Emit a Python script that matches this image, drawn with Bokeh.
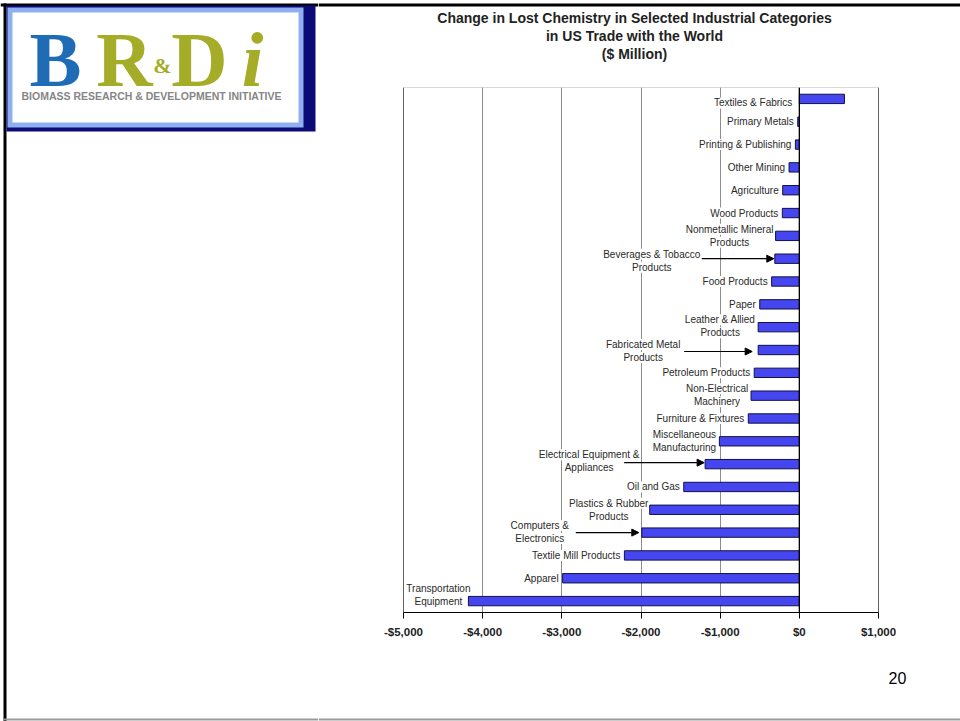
from bokeh.plotting import figure
from bokeh.layouts import row, column
from bokeh.models import (ColumnDataSource, Range1d, FixedTicker, Span, Arrow, NormalHead,
                          BoxAnnotation)
from bokeh.core.properties import value
from bokeh.embed import file_html
from bokeh.resources import INLINE

# ---- data -------------------------------------------------------------
categories = [
    "Textiles & Fabrics", "Primary Metals", "Printing & Publishing", "Other Mining",
    "Agriculture", "Wood Products", "Nonmetallic Mineral Products",
    "Beverages & Tobacco Products", "Food Products", "Paper",
    "Leather & Allied Products", "Fabricated Metal Products", "Petroleum Products",
    "Non-Electrical Machinery", "Furniture & Fixtures", "Miscellaneous Manufacturing",
    "Electrical Equipment & Appliances", "Oil and Gas", "Plastics & Rubber Products",
    "Computers & Electronics", "Textile Mill Products", "Apparel",
    "Transportation Equipment",
]
change_musd = [570, -20, -50, -130, -210, -215, -300, -310, -350, -500, -520, -520,
               -570, -610, -645, -1010, -1190, -1460, -1890, -1990, -2210, -2990, -4180]
display_labels = [
    "Textiles & Fabrics", "Primary Metals", "Printing & Publishing", "Other Mining",
    "Agriculture", "Wood Products", "Nonmetallic Mineral\nProducts",
    "Beverages & Tobacco\nProducts", "Food Products", "Paper",
    "Leather & Allied\nProducts", "Fabricated Metal\nProducts", "Petroleum Products",
    "Non-Electrical\nMachinery", "Furniture & Fixtures", "Miscellaneous\nManufacturing",
    "Electrical Equipment &\nAppliances", "Oil and Gas", "Plastics & Rubber\nProducts",
    "Computers &\nElectronics", "Textile Mill Products", "Apparel",
    "Transportation\nEquipment",
]
tick_values = [-5000, -4000, -3000, -2000, -1000, 0, 1000]
tick_labels = ["-$5,000", "-$4,000", "-$3,000", "-$2,000", "-$1,000", "$0", "$1,000"]
title_lines = ["Change in Lost Chemistry in Selected Industrial Categories",
               "in US Trade with the World", "($ Million)"]
page_number = "20"

# ---- page geometry (pixels) ---------------------------------------------
W, H = 960, 721
SPLIT_X = 318            # left column (logo) | right column (chart)
TITLE_H = 80             # title strip height
FOOT_Y = 660             # footer strip starts here
FRAME_L, FRAME_R, FRAME_T, FRAME_B = 403, 878, 87, 612
X0, X1 = tick_values[0], tick_values[-1]
n = len(categories)
units_per_px = (X1 - X0) / (FRAME_R - FRAME_L)
row_px = (FRAME_B - FRAME_T) / n
SANS = value("Liberation Sans")
SERIF = value("Liberation Serif")

# label placement: (dx from bar end in px, dy in px); two-line labels centred
label_place = {
    "Textiles & Fabrics": (-7, 4),
    "Nonmetallic Mineral Products": (-46, 0),
    "Beverages & Tobacco Products": (-123, 2),
    "Leather & Allied Products": (-38, -1),
    "Fabricated Metal Products": (-115, 1),
    "Non-Electrical Machinery": (-34, -0.5),
    "Miscellaneous Manufacturing": (-35, -0.5),
    "Electrical Equipment & Appliances": (-116, -3),
    "Plastics & Rubber Products": (-41, 0),
    "Computers & Electronics": (-102, -0.5),
    "Transportation Equipment": (-30, -6.5),
}
# leader arrows: (tail dx, tip dx, dy) in px relative to bar end / row centre
arrow_place = {
    "Beverages & Tobacco Products": (-73, -1, 0),
    "Fabricated Metal Products": (-74, -6, 1.5),
    "Electrical Equipment & Appliances": (-81, -1, -1.5),
    "Computers & Electronics": (-66, -3, 0),
}
LINE_GAP = 13


def pixel_panel(x0, x1, y0, y1):
    """A bare figure whose data coordinates are page pixels (y downwards)."""
    f = figure(width=x1 - x0, height=y1 - y0,
               x_range=Range1d(x0, x1), y_range=Range1d(y1, y0),
               x_axis_location=None, y_axis_location=None,
               output_backend="svg", toolbar_location=None,
               min_border=0, min_border_left=0, min_border_right=0,
               min_border_top=0, min_border_bottom=0)
    f.outline_line_color = None
    f.background_fill_color = "white"
    f.border_fill_color = "white"
    f.xgrid.visible = False
    f.ygrid.visible = False
    return f


def band(f, l, r, t, b, color):
    f.quad(left=[l], right=[r], top=[t], bottom=[b], fill_color=color, line_color=None)


def words(f, x, y, text, size, color, font=SANS, style="normal", align="left",
          baseline="middle"):
    f.text(x=[x], y=[y], text=[text], text_font=font, text_font_size=size,
           text_font_style=style, text_color=color, text_align=align,
           text_baseline=baseline)


# ---- left column: slide border and logo -----------------------------------
left = pixel_panel(0, SPLIT_X, 0, H)
band(left, 0, SPLIT_X, 3, 6, "black")
band(left, 3, 6, 3, H, "black")
band(left, 3, SPLIT_X, 718, 720, "#9a9a9a")
band(left, 6, 315, 5, 131, "#0b0b78")
band(left, 7, 303, 7, 127, "#8fb0f0")
band(left, 12, 298, 12, 122, "white")
BLUE, OLIVE = "#1f6cb6", "#a5ac27"
words(left, 55, 59, "B", "78px", BLUE, font=SERIF, style="bold", align="center")
words(left, 124, 59, "R", "78px", OLIVE, font=SERIF, style="bold", align="center")
words(left, 162, 65, "&", "22px", OLIVE, font=SERIF, style="bold", align="center")
words(left, 199, 59, "D", "78px", OLIVE, font=SERIF, style="bold", align="center")
words(left, 252, 59, "i", "78px", OLIVE, font=SERIF, style="bold italic", align="center")
words(left, 21, 95, "BIOMASS RESEARCH & DEVELOPMENT INITIATIVE", "10.5px", "#868686",
      style="bold")

# ---- title strip ------------------------------------------------------------
top = pixel_panel(SPLIT_X, W, 0, TITLE_H)
band(top, SPLIT_X, W, 3, 6, "black")
for k, line in enumerate(title_lines):
    words(top, 634, 17 + 18 * k, line, "14px", "#222222", style="bold", align="center")

# ---- chart ------------------------------------------------------------------
# the frame spans the whole right column; the value scale is set so that the
# axis limits land on the chart box
x_lo = X0 - (FRAME_L - SPLIT_X) * units_per_px
x_hi = X1 + (W - FRAME_R) * units_per_px
p = figure(width=W - SPLIT_X, height=FOOT_Y - TITLE_H,
           x_range=Range1d(x_lo, x_hi), y_range=Range1d(n - 0.5, -0.5),
           y_axis_location=None, output_backend="svg", toolbar_location=None,
           min_border_left=0, min_border_right=0,
           min_border_top=FRAME_T - TITLE_H, min_border_bottom=FOOT_Y - FRAME_B)
p.background_fill_color = "white"
p.border_fill_color = "white"
p.outline_line_color = None

p.xaxis.ticker = FixedTicker(ticks=tick_values)
p.xaxis.bounds = (X0, X1)
p.xaxis.major_label_overrides = dict(zip(tick_values, tick_labels))
p.xaxis.minor_tick_line_color = None
p.xaxis.major_tick_in = 0
p.xaxis.major_tick_out = 6
p.xaxis.axis_line_color = "black"
p.xaxis.major_tick_line_color = "black"
p.xaxis.major_label_text_font = "Liberation Sans"
p.xaxis.major_label_text_font_style = "bold"
p.xaxis.major_label_text_font_size = "11.5px"
p.xaxis.major_label_text_color = "#222222"
p.xaxis.major_label_standoff = 7
p.xgrid.grid_line_color = "#8c8c8c"
p.xgrid.grid_line_width = 1
p.ygrid.visible = False

# chart box
p.add_layout(BoxAnnotation(left=X0, right=X1, top=-0.5, bottom=n - 0.5,
                           fill_alpha=0, line_color="black", line_width=1,
                           level="underlay"))

idx = list(range(n))
bars = ColumnDataSource(dict(
    y=idx,
    left=[min(0, v) for v in change_musd],
    right=[max(0, v) for v in change_musd],
    name=categories,
))
p.hbar(y="y", left="left", right="right", height=0.41, source=bars,
       fill_color="#4646f0", line_color="#10104a", line_width=1)

p.add_layout(Span(location=0, dimension="height", line_color="black", line_width=1.3))

# category labels
tx, ty, tt, ta = [], [], [], []
for i, (cat, lab, v) in enumerate(zip(categories, display_labels, change_musd)):
    end = min(0, v)
    lines = lab.split("\n")
    dx, dy = label_place.get(cat, (-4, 0))
    if len(lines) == 1:
        tx.append(end + dx * units_per_px)
        ty.append(i + dy / row_px)
        tt.append(lines[0])
        ta.append("right")
    else:
        for k, line in enumerate(lines):
            off = (k - (len(lines) - 1) / 2) * LINE_GAP
            tx.append(end + dx * units_per_px)
            ty.append(i + (dy + off) / row_px)
            tt.append(line)
            ta.append("center")
labels = ColumnDataSource(dict(x=tx, y=ty, text=tt, align=ta))
p.text(x="x", y="y", text="text", text_align="align", text_baseline="middle",
       source=labels, text_font_size="10px", text_color="#2a2a2a",
       text_font=SANS, background_fill_color="white")

# leader arrows
axs, ays, axe, aye = [], [], [], []
for i, (cat, v) in enumerate(zip(categories, change_musd)):
    if cat in arrow_place:
        t0, t1, dy = arrow_place[cat]
        end = min(0, v)
        axs.append(end + t0 * units_per_px)
        axe.append(end + t1 * units_per_px)
        ays.append(i + dy / row_px)
        aye.append(i + dy / row_px)
p.add_layout(Arrow(x_start="xs", y_start="ys", x_end="xe", y_end="ye",
                   source=ColumnDataSource(dict(xs=axs, ys=ays, xe=axe, ye=aye)),
                   line_color="black", line_width=1.2,
                   end=NormalHead(size=7, fill_color="black", line_color="black")))

# ---- footer strip ---------------------------------------------------------
foot = pixel_panel(SPLIT_X, W, FOOT_Y, H)
band(foot, SPLIT_X, W, 718, 720, "#9a9a9a")
words(foot, 897, 677, page_number, "16px", "black", align="center")

layout = row(left, column(top, p, foot, spacing=0), spacing=0)
open("out.html", "w").write(file_html(layout, INLINE))
